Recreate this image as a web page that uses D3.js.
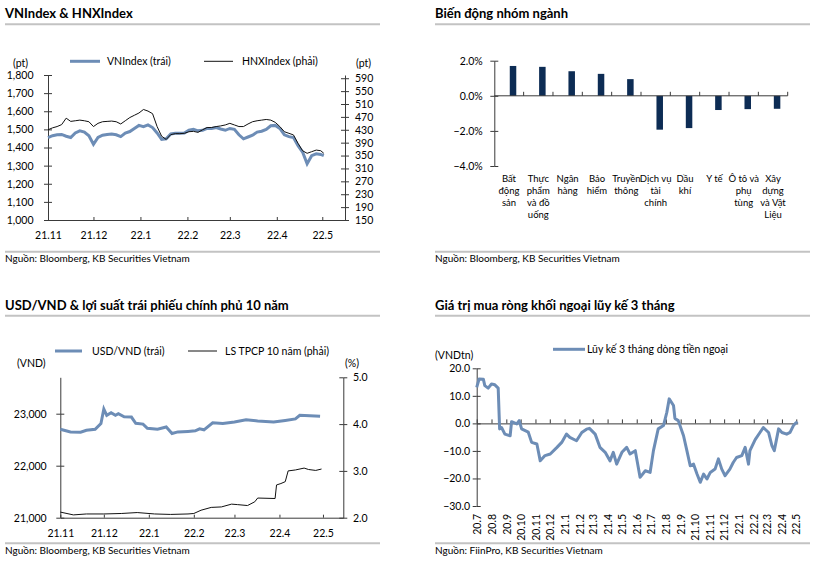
<!DOCTYPE html>
<html>
<head>
<meta charset="utf-8">
<script src="https://cdn.jsdelivr.net/npm/d3@7"></script>
<style>
  body { margin: 0; background: #fff; }
  svg text { font-family: Lato, "Open Sans", sans-serif; fill: #000; }
</style>
</head>
<body>
<svg id="chart" width="821" height="562"></svg>
<script>
// ------------------------------------------------------------
// Data: VNIndex & HNXIndex
// ------------------------------------------------------------
const idxDates = ["2021-11-01","2021-11-04","2021-11-07","2021-11-10","2021-11-13","2021-11-16","2021-11-19","2021-11-22","2021-11-25","2021-11-28",
  "2021-12-01","2021-12-04","2021-12-07","2021-12-10","2021-12-13","2021-12-16","2021-12-19","2021-12-22","2021-12-25","2021-12-28","2021-12-31",
  "2022-01-03","2022-01-06","2022-01-09","2022-01-12","2022-01-15","2022-01-18","2022-01-21","2022-01-24","2022-01-27","2022-01-30",
  "2022-02-02","2022-02-05","2022-02-08","2022-02-11","2022-02-14","2022-02-17","2022-02-20","2022-02-23","2022-02-26",
  "2022-03-01","2022-03-04","2022-03-07","2022-03-10","2022-03-13","2022-03-16","2022-03-19","2022-03-22","2022-03-25","2022-03-28","2022-03-31",
  "2022-04-03","2022-04-06","2022-04-09","2022-04-12","2022-04-15","2022-04-18","2022-04-21","2022-04-24","2022-04-27","2022-04-30","2022-05-02"];
const vnIndex = [1455,1465,1470,1472,1462,1455,1480,1492,1485,1465,
  1418,1455,1468,1472,1475,1470,1460,1480,1488,1505,1522,
  1515,1525,1510,1480,1445,1448,1475,1478,1478,1480,
  1495,1500,1492,1495,1505,1505,1510,1502,1495,
  1505,1500,1470,1448,1458,1468,1485,1490,1500,1520,1522,
  1505,1470,1460,1455,1410,1375,1310,1355,1365,1362,1355];
const hnxIndex = [430,436,440,446,466,456,458,460,458,455,
  440,450,455,456,457,455,448,458,468,475,482,
  493,488,480,440,410,400,415,418,418,419,
  424,425,422,430,437,437,440,442,445,
  450,445,440,440,448,455,458,460,462,460,453,
  440,424,419,414,388,365,357,362,367,365,357];
const idxMonthTicks = ["2021-11-01","2021-12-01","2022-01-01","2022-02-01","2022-03-01","2022-04-01","2022-05-01"];
const vnTicks = [1000,1100,1200,1300,1400,1500,1600,1700,1800];
const hnxTicks = [150,190,230,270,310,350,390,430,470,510,550,590];

// ------------------------------------------------------------
// Data: Biến động nhóm ngành
// ------------------------------------------------------------
const sectors = ["Bất\nđộng\nsản","Thực\nphẩm\nvà đồ\nuống","Ngân\nhàng","Bảo\nhiểm","Truyền\nthông",
  "Dịch vụ\ntài\nchính","Dầu\nkhí","Y tế","Ô tô và\nphụ\ntùng","Xây\ndựng\nvà Vật\nLiệu"];
const sectorChange = [1.7,1.65,1.4,1.25,0.95,-1.93,-1.84,-0.81,-0.76,-0.74];
const pctTicks = [-4,-2,0,2];

// ------------------------------------------------------------
// Data: USD/VND & LS TPCP 10 năm
// ------------------------------------------------------------
const usdDates = ["2021-11-01","2021-11-08","2021-11-15","2021-11-19","2021-11-25","2021-11-29","2021-12-01","2021-12-03","2021-12-06","2021-12-09",
  "2021-12-11","2021-12-15","2021-12-20","2021-12-23","2021-12-28","2021-12-31","2022-01-07","2022-01-13","2022-01-17","2022-01-21",
  "2022-01-28","2022-02-02","2022-02-05","2022-02-08","2022-02-14","2022-02-21","2022-03-01","2022-03-09","2022-03-17","2022-03-28",
  "2022-04-05","2022-04-12","2022-04-15","2022-04-22","2022-04-29"];
const usdVnd = [22700,22650,22645,22680,22700,22810,23090,22970,23020,22970,
  23000,22940,22935,22815,22800,22720,22700,22745,22620,22650,
  22660,22670,22710,22690,22825,22810,22840,22885,22860,22840,
  22870,22900,22970,22960,22950];
const bondDates = ["2021-11-01","2021-11-10","2021-11-19","2021-12-01","2021-12-13","2021-12-24","2022-01-05","2022-01-16","2022-01-28","2022-02-01",
  "2022-02-06","2022-02-13","2022-02-20","2022-02-27","2022-03-03","2022-03-10","2022-03-15","2022-03-17","2022-03-29","2022-03-30",
  "2022-04-02","2022-04-05","2022-04-07","2022-04-12","2022-04-18","2022-04-21","2022-04-26","2022-04-30"];
const bondYield = [2.12,2.06,2.08,2.08,2.09,2.11,2.08,2.07,2.08,2.09,
  2.16,2.22,2.23,2.29,2.28,2.26,2.34,2.42,2.41,2.70,
  2.73,2.77,3.00,3.02,3.06,3.03,3.01,3.04];
const usdTicks = [21000,22000,23000];
const bondTicks = [2,3,4,5];

// ------------------------------------------------------------
// Data: Giá trị mua ròng khối ngoại lũy kế 3 tháng
// ------------------------------------------------------------
const flowDates = ["2020-07-01","2020-07-06","2020-07-15","2020-07-18","2020-07-25","2020-08-01","2020-08-08","2020-08-15","2020-08-18","2020-08-22",
  "2020-08-29","2020-09-09","2020-09-12","2020-09-23","2020-09-28","2020-10-03","2020-10-17","2020-10-24","2020-11-04","2020-11-11",
  "2020-11-21","2020-12-02","2020-12-16","2020-12-26","2021-01-05","2021-01-12","2021-01-26","2021-02-06","2021-02-16","2021-02-22",
  "2021-03-06","2021-03-16","2021-03-27","2021-04-06","2021-04-13","2021-04-20","2021-05-01","2021-05-11","2021-05-18","2021-05-29",
  "2021-06-08","2021-06-19","2021-06-29","2021-07-06","2021-07-16","2021-07-27","2021-08-03","2021-08-08","2021-08-17","2021-08-20",
  "2021-08-27","2021-09-07","2021-09-14","2021-09-21","2021-09-28","2021-10-05","2021-10-12","2021-10-19","2021-10-26","2021-11-02",
  "2021-11-12","2021-11-19","2021-11-26","2021-12-03","2021-12-13","2021-12-20","2021-12-27","2022-01-07","2022-01-14","2022-01-21",
  "2022-01-24","2022-02-04","2022-02-14","2022-02-21","2022-03-04","2022-03-11","2022-03-16","2022-03-25","2022-04-01","2022-04-11",
  "2022-04-18","2022-04-25","2022-05-01","2022-05-03"];
const foreignFlow = [13.1,16.1,16.0,13.7,12.8,14.3,14.0,12.8,-2.0,-1.5,
  -3.9,-4.5,0.6,-0.2,1.0,-2.0,-3.2,-6.9,-7.5,-13.6,
  -11.7,-11.1,-8.7,-6.9,-3.9,-5.1,-6.3,-3.3,-2.1,-1.8,
  -3.9,-8.7,-10.5,-13.6,-10.5,-14.8,-10.5,-8.7,-11.1,-9.9,
  -19.6,-17.2,-17.8,-9.9,-2.0,-0.8,4.0,8.9,6.5,1.8,
  1.0,-4.5,-9.9,-15.4,-14.8,-18.3,-21.4,-18.4,-20.2,-17.8,
  -16.6,-12.9,-16.6,-19.0,-16.6,-14.2,-12.4,-11.7,-8.7,-14.8,
  -9.9,-5.9,-3.3,-1.5,-3.3,-8.1,-9.9,-2.0,-3.3,-3.9,
  -3.3,-0.8,0.3,-0.1];
const flowMonthTicks = ["2020-07-01","2020-08-01","2020-09-01","2020-10-01","2020-11-01","2020-12-01","2021-01-01","2021-02-01",
  "2021-03-01","2021-04-01","2021-05-01","2021-06-01","2021-07-01","2021-08-01","2021-09-01","2021-10-01","2021-11-01",
  "2021-12-01","2022-01-01","2022-02-01","2022-03-01","2022-04-01","2022-05-01"];
const flowTicks = [-30,-20,-10,0,10,20];

// ------------------------------------------------------------
// Helpers
// ------------------------------------------------------------
const parse = d3.timeParse("%Y-%m-%d");
const svg = d3.select("#chart");
const AXIS = "#3a3a3a";
const BLUE = "#6d8db6";
const NAVY = "#0d2c54";
const RULE = "#c3c3c3";

function header(x0, x1, baseY, lineY, title) {
  svg.append("text").attr("x", x0).attr("y", baseY)
    .attr("font-weight", 700).attr("font-size", 13).text(title);
  svg.append("line").attr("x1", x0).attr("x2", x1).attr("y1", lineY).attr("y2", lineY)
    .attr("stroke", RULE).attr("stroke-width", 2);
}

function footer(x0, x1, lineY, baseY, source) {
  svg.append("line").attr("x1", x0).attr("x2", x1).attr("y1", lineY).attr("y2", lineY)
    .attr("stroke", RULE).attr("stroke-width", 2);
  svg.append("text").attr("x", x0).attr("y", baseY).attr("font-size", 10).text(source);
}

function label(x, y, txt, size, anchor) {
  svg.append("text").attr("x", x).attr("y", y).attr("font-size", size || 10.5)
    .attr("text-anchor", anchor || "start").text(txt);
}

function styleAxis(g, size) {
  g.selectAll(".domain").attr("stroke", AXIS);
  g.selectAll(".tick line").attr("stroke", AXIS);
  g.selectAll(".tick text").attr("fill", "#000").attr("font-size", size)
    .attr("font-family", "Lato, 'Open Sans', sans-serif");
}

// y axis with "+" shaped ticks
function crossAxisY(scale, x, ticks, fmt, side, pad, size) {
  const g = svg.append("g").attr("transform", `translate(${x},0)`);
  const a = side === "left" ? d3.axisLeft(scale) : d3.axisRight(scale);
  const b = side === "left" ? d3.axisRight(scale) : d3.axisLeft(scale);
  g.call(a.tickValues(ticks).tickFormat(fmt).tickSizeInner(4).tickSizeOuter(0).tickPadding(pad));
  g.append("g").call(b.tickValues(ticks).tickFormat(() => "").tickSizeInner(4).tickSizeOuter(0))
    .select(".domain").remove();
  styleAxis(g, size || 10.5);
  return g;
}

function timeAxisX(scale, y, ticks, fmt, pad, size) {
  const g = svg.append("g").attr("transform", `translate(0,${y})`);
  g.call(d3.axisBottom(scale).tickValues(ticks).tickFormat(fmt)
    .tickSizeInner(-3).tickSizeOuter(0).tickPadding(pad));
  styleAxis(g, size || 10.5);
  return g;
}

function series(dates, values) {
  return dates.map((d, i) => ({ date: parse(d), v: values[i] }));
}

const fmtMonth = d3.timeFormat("%y.%-m");
const comma = d3.format(",");

// ------------------------------------------------------------
// Panel 1: VNIndex & HNXIndex
// ------------------------------------------------------------
function drawIndexPanel() {
  header(5, 380, 17.7, 24.3, "VNIndex & HNXIndex");

  const x = d3.scaleTime().domain([parse("2021-11-01"), parse("2022-05-16")]).range([48, 345]);
  const yL = d3.scaleLinear().domain([1000, 1800]).range([220, 75]);
  const yR = d3.scaleLinear().domain([150, 600]).range([220, 75]);

  timeAxisX(x, 220, idxMonthTicks.map(parse), fmtMonth, 12);
  crossAxisY(yL, 48, vnTicks, comma, "left", 10.5);
  crossAxisY(yR, 345, hnxTicks, d3.format("d"), "right", 6);

  svg.append("path").datum(series(idxDates, vnIndex))
    .attr("fill", "none").attr("stroke", BLUE).attr("stroke-width", 3)
    .attr("d", d3.line().x(d => x(d.date)).y(d => yL(d.v)));
  svg.append("path").datum(series(idxDates, hnxIndex))
    .attr("fill", "none").attr("stroke", "#111").attr("stroke-width", 1)
    .attr("d", d3.line().x(d => x(d.date)).y(d => yR(d.v)));

  // legend + units
  svg.append("line").attr("x1", 70).attr("x2", 100).attr("y1", 61.3).attr("y2", 61.3)
    .attr("stroke", BLUE).attr("stroke-width", 3);
  label(107, 64.8, "VNIndex (trái)");
  svg.append("line").attr("x1", 204).attr("x2", 233).attr("y1", 61.3).attr("y2", 61.3)
    .attr("stroke", "#111").attr("stroke-width", 1);
  label(242, 64.8, "HNXIndex (phải)");
  label(13, 66.5, "(pt)");
  label(356, 66.5, "(pt)");

  footer(5, 380, 251.7, 262, "Nguồn: Bloomberg, KB Securities Vietnam");
}

// ------------------------------------------------------------
// Panel 2: Biến động nhóm ngành
// ------------------------------------------------------------
function drawSectorPanel() {
  header(435, 810, 17.7, 24.3, "Biến động nhóm ngành");

  const x = d3.scaleBand().domain(sectors).range([494.3, 787.7]).padding(0);
  const y = d3.scaleLinear().domain([-4, 2]).range([166, 60.7]);

  svg.selectAll(".bar").data(sectorChange).join("rect")
    .attr("class", "bar")
    .attr("x", (d, i) => x(sectors[i]) + x.bandwidth() / 2 + 0.8)
    .attr("width", 6.5)
    .attr("y", d => y(Math.max(0, d)))
    .attr("height", d => Math.abs(y(d) - y(0)))
    .attr("fill", NAVY);

  crossAxisY(y, 494.3, pctTicks, d => d3.format(".1f")(d) + "%", "left", 7.6);

  // zero line with category separators
  const gx = svg.append("g").attr("transform", `translate(0,${y(0)})`);
  gx.append("line").attr("x1", 494.3).attr("x2", 787.7).attr("stroke", AXIS);
  gx.selectAll(".sep").data(sectors).join("line")
    .attr("class", "sep")
    .attr("x1", d => x(d) + x.bandwidth()).attr("x2", d => x(d) + x.bandwidth())
    .attr("y1", 0).attr("y2", -4).attr("stroke", AXIS);

  // category labels under the plot
  sectors.forEach(s => {
    const t = svg.append("text").attr("text-anchor", "middle").attr("font-size", 9.5);
    s.split("\n").forEach((line, j) => {
      t.append("tspan").attr("x", x(s) + x.bandwidth() / 2).attr("y", 182 + j * 12).text(line);
    });
  });

  footer(435, 810, 251.7, 262, "Nguồn: Bloomberg, KB Securities Vietnam");
}

// ------------------------------------------------------------
// Panel 3: USD/VND & lợi suất trái phiếu chính phủ 10 năm
// ------------------------------------------------------------
function drawFxPanel() {
  header(5, 380, 310, 315.7, "USD/VND & lợi suất trái phiếu chính phủ 10 năm");

  const x = d3.scaleTime().domain([parse("2021-11-01"), parse("2022-05-15")]).range([60.3, 343.3]);
  const yL = d3.scaleLinear().domain([21000, 23700]).range([517.7, 377.3]);
  const yR = d3.scaleLinear().domain([2, 5]).range([517.7, 377.3]);

  timeAxisX(x, 517.7, idxMonthTicks.map(parse), fmtMonth, 12);
  crossAxisY(yL, 60.3, usdTicks, comma, "left", 9.6);
  crossAxisY(yR, 343.3, bondTicks, d3.format(".1f"), "right", 5.7);

  svg.append("path").datum(series(usdDates, usdVnd))
    .attr("fill", "none").attr("stroke", BLUE).attr("stroke-width", 3)
    .attr("d", d3.line().x(d => x(d.date)).y(d => yL(d.v)));
  svg.append("path").datum(series(bondDates, bondYield))
    .attr("fill", "none").attr("stroke", "#111").attr("stroke-width", 1)
    .attr("d", d3.line().x(d => x(d.date)).y(d => yR(d.v)));

  svg.append("line").attr("x1", 55).attr("x2", 82).attr("y1", 351).attr("y2", 351)
    .attr("stroke", BLUE).attr("stroke-width", 3);
  label(92, 354.5, "USD/VND (trái)");
  svg.append("line").attr("x1", 188).attr("x2", 217).attr("y1", 351).attr("y2", 351)
    .attr("stroke", "#111").attr("stroke-width", 1);
  label(225, 354.5, "LS TPCP 10 năm (phải)");
  label(17, 366.5, "(VND)");
  label(345, 366.5, "(%)");

  footer(5, 380, 543.3, 554, "Nguồn: Bloomberg, KB Securities Vietnam");
}

// ------------------------------------------------------------
// Panel 4: Giá trị mua ròng khối ngoại lũy kế 3 tháng
// ------------------------------------------------------------
function drawFlowPanel() {
  header(435, 810, 310, 315.7, "Giá trị mua ròng khối ngoại lũy kế 3 tháng");

  const x = d3.scaleTime().domain([parse("2020-07-01"), parse("2022-05-04")]).range([476.7, 797.7]);
  const y = d3.scaleLinear().domain([-30, 20]).range([506, 368.3]);

  crossAxisY(y, 476.7, flowTicks, d3.format(".1f"), "left", 2.7);

  const gx = svg.append("g").attr("transform", `translate(0,${y(0)})`);
  gx.call(d3.axisBottom(x).tickValues(flowMonthTicks.map(parse)).tickFormat(fmtMonth)
    .tickSizeInner(-4).tickSizeOuter(0));
  styleAxis(gx, 10.5);
  gx.selectAll(".tick text")
    .attr("transform", "rotate(-90)")
    .attr("x", -(514 - y(0))).attr("y", 0).attr("dy", "0.35em")
    .attr("text-anchor", "end");

  svg.append("path").datum(series(flowDates, foreignFlow))
    .attr("fill", "none").attr("stroke", BLUE).attr("stroke-width", 3)
    .attr("stroke-linejoin", "round")
    .attr("d", d3.line().x(d => x(d.date)).y(d => y(d.v)));

  svg.append("line").attr("x1", 553).attr("x2", 585).attr("y1", 349.3).attr("y2", 349.3)
    .attr("stroke", BLUE).attr("stroke-width", 3);
  label(587, 353, "Lũy kế 3 tháng dòng tiền ngoại");
  label(435, 359, "(VNDtn)");

  footer(435, 810, 543.3, 554, "Nguồn: FiinPro, KB Securities Vietnam");
}

drawIndexPanel();
drawSectorPanel();
drawFxPanel();
drawFlowPanel();
</script>
</body>
</html>
